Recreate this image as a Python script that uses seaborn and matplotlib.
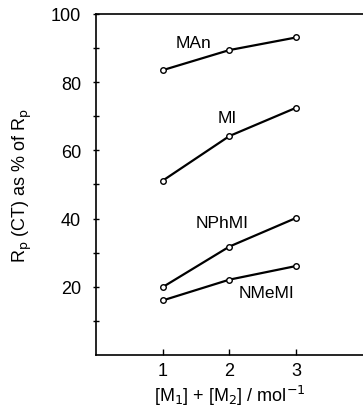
import matplotlib
matplotlib.use("Agg")
import matplotlib.pyplot as plt
import seaborn as sns
import pandas as pd

conc = [1, 2, 3]
series_names = ["MAn", "MI", "NPhMI", "NMeMI"]
man = [83.5, 89.4, 93.1]
mi = [51.1, 64.2, 72.5]
nphmi = [19.9, 31.8, 40.2]
nmemi = [16.0, 22.1, 26.1]
label_pos = {"MAn": (1.46, 91.7), "MI": (1.97, 69.7), "NPhMI": (1.89, 38.9), "NMeMI": (2.56, 18.4)}
y_major = [20, 40, 60, 80, 100]
y_minor = [10, 30, 50, 70, 90]
x_ticks = [1, 2, 3]

rows = []
for name, vals in zip(series_names, [man, mi, nphmi, nmemi]):
    for xv, yv in zip(conc, vals):
        rows.append({"conc": xv, "value": yv, "series": name})
df = pd.DataFrame(rows)

sns.set_style("ticks")
plt.rcParams['font.family'] = ['Liberation Sans', 'DejaVu Sans']
plt.rcParams['text.color'] = 'black'
plt.rcParams['axes.labelcolor'] = 'black'
plt.rcParams['xtick.color'] = 'black'
plt.rcParams['ytick.color'] = 'black'

fig = plt.figure(figsize=(3.63, 4.14), dpi=100)
ax = fig.add_axes([0.264, 0.140, 0.736, 0.824])

sns.lineplot(data=df, x="conc", y="value", hue="series", palette=["black"] * 4,
             marker="o", markerfacecolor="white", markeredgecolor="black",
             markeredgewidth=1.0, markersize=4, linewidth=1.6, legend=False, ax=ax)

for name, (tx, ty) in label_pos.items():
    ax.text(tx, ty, name, ha="center", va="center", fontsize=12.5, color="black")

ax.set_xlim(0, 4)
ax.set_ylim(0, 100)
ax.set_xticks(x_ticks)
ax.set_xticklabels([str(v) for v in x_ticks], fontsize=13)
ax.set_yticks(y_major)
ax.set_yticklabels([str(v) for v in y_major], fontsize=13)
ax.set_yticks(y_minor, minor=True)
ax.tick_params(axis="y", which="both", direction="inout", length=5, width=1, pad=8)
ax.tick_params(axis="x", which="both", direction="in", length=4, width=1, pad=5)

for s in ["left", "bottom", "top"]:
    ax.spines[s].set_linewidth(1.2)
    ax.spines[s].set_color("black")
ax.spines["right"].set_visible(False)

ax.set_xlabel(r"[M$_1$] + [M$_2$] / mol$^{-1}$", fontsize=13, labelpad=3)
ax.set_ylabel(r"R$_\mathrm{p}$ (CT) as % of R$_\mathrm{p}$", fontsize=13, labelpad=12)

fig.savefig("out.png", dpi=100)
